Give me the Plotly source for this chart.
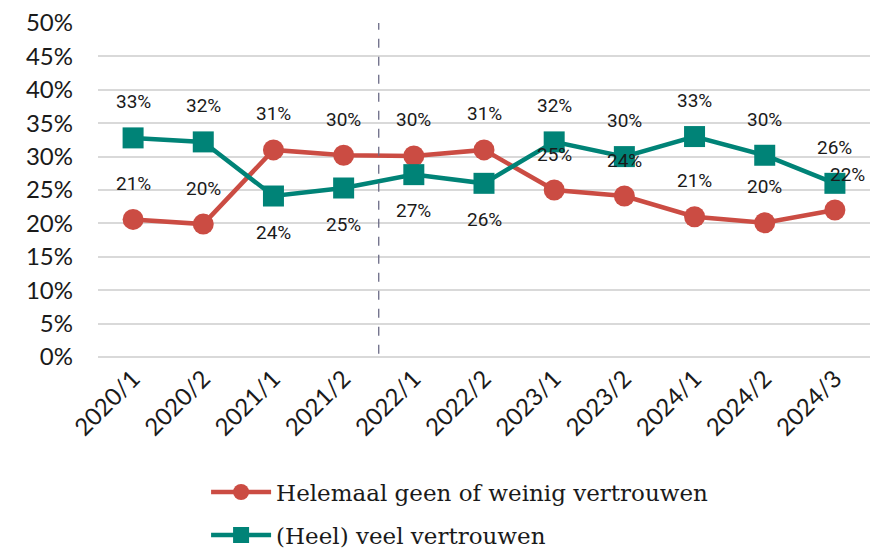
import plotly.graph_objects as go

categories = ["2020/1", "2020/2", "2021/1", "2021/2", "2022/1", "2022/2",
              "2023/1", "2023/2", "2024/1", "2024/2", "2024/3"]
weinig = [20.6, 19.9, 31.0, 30.2, 30.1, 31.0, 25.0, 24.1, 21.0, 20.1, 22.0]
weinig_labels = ["21%", "20%", "31%", "30%", "30%", "31%", "25%", "24%", "21%", "20%", "22%"]
weinig_pos = ["above"] * 11
veel = [32.8, 32.2, 24.1, 25.3, 27.3, 26.0, 32.2, 30.0, 33.0, 30.2, 26.0]
veel_labels = ["33%", "32%", "24%", "25%", "27%", "26%", "32%", "30%", "33%", "30%", "26%"]
veel_pos = ["above", "above", "below", "below", "below", "below",
            "above", "above", "above", "above", "above"]
y_ticks = list(range(0, 51, 5))
y_tick_text = [f"{v}%" for v in y_ticks]

RED = "#CB4C43"
TEAL = "#008377"
TXT = "#1a1a1a"

fig = go.Figure()
fig.add_trace(go.Scatter(
    x=categories, y=weinig, mode="lines+markers",
    name="Helemaal geen of weinig vertrouwen",
    line=dict(color=RED, width=4.5),
    marker=dict(symbol="circle", size=21, color=RED),
    legendgroup="a",
))
fig.add_trace(go.Scatter(
    x=categories, y=veel, mode="lines+markers",
    name="(Heel) veel vertrouwen",
    line=dict(color=TEAL, width=4.5),
    marker=dict(symbol="square", size=21, color=TEAL),
    legendgroup="b",
))

label_font = dict(family="Roboto, sans-serif", size=19, color=TXT)
annotations = []
for i, (c, v, t, p) in enumerate(zip(categories, weinig, weinig_labels, weinig_pos)):
    annotations.append(dict(x=c, y=v, text=t, showarrow=False,
                            yshift=36 if p == "above" else -36,
                            xshift=13 if i == len(categories) - 1 else 0,
                            font=label_font))
for c, v, t, p in zip(categories, veel, veel_labels, veel_pos):
    annotations.append(dict(x=c, y=v, text=t, showarrow=False,
                            yshift=36 if p == "above" else -36,
                            font=label_font))

fig.add_shape(type="line", xref="x", yref="paper", x0=3.5, x1=3.5, y0=0.01, y1=1,
              line=dict(color="#6B6B86", width=1.3, dash="dash"))

fig.update_layout(
    width=876, height=551,
    margin=dict(l=98, r=6, t=23, b=194, autoexpand=False),
    plot_bgcolor="white", paper_bgcolor="white",
    showlegend=True,
    legend=dict(x=0.14, xanchor="left", y=-0.34, yanchor="top",
                font=dict(family="DejaVu Serif, serif", size=23, color=TXT),
                tracegroupgap=10, itemwidth=60),
    annotations=annotations,
    xaxis=dict(type="category", tickangle=-45, automargin=False,
               tickfont=dict(family="Lato, sans-serif", size=24, color=TXT),
               showgrid=False, showline=False, ticks="",
               ticklabelstandoff=2, range=[-0.5, 10.5]),
    yaxis=dict(range=[0, 50], tickvals=y_ticks, ticktext=y_tick_text,
               automargin=False,
               tickfont=dict(family="Lato, sans-serif", size=24, color=TXT),
               showgrid=True, gridcolor="#D9D9D9", gridwidth=1.5,
               zeroline=True, zerolinecolor="#D9D9D9", zerolinewidth=1.5,
               showline=False, ticks="", ticklabelstandoff=24),
)

fig.write_html("out.html", config={"displayModeBar": False},
               post_script="document.body.style.margin='0';document.body.style.overflow='hidden';")
